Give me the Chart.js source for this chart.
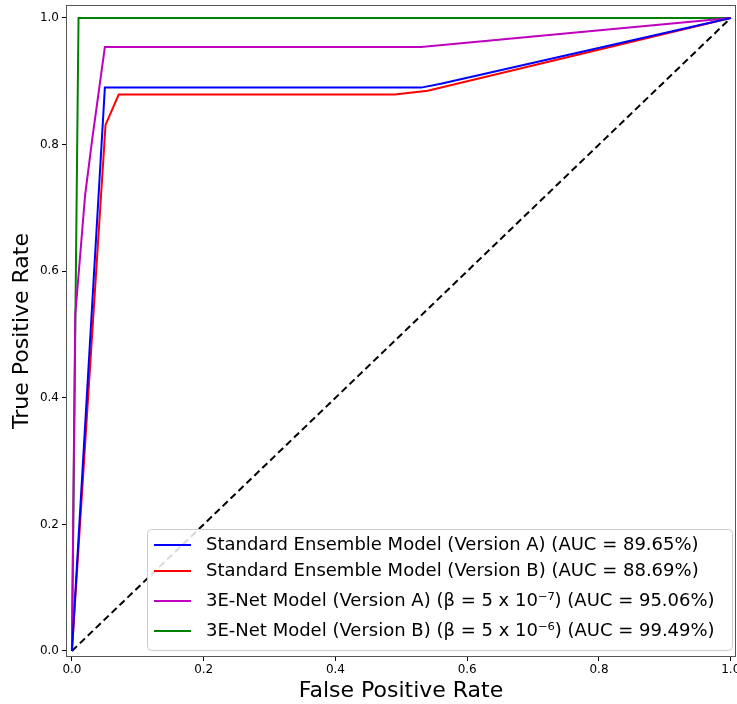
<!DOCTYPE html>
<html>
<head>
<meta charset="utf-8">
<script src="https://cdn.jsdelivr.net/npm/chart.js@4.4.1/dist/chart.umd.min.js"></script>
<style>
  html, body { margin: 0; padding: 0; background: #fff; overflow: hidden; }
  #wrap { width: 737px; height: 704px; }
</style>
</head>
<body>
<div id="wrap"><canvas id="roc"></canvas></div>
<script>
// ROC curve points
var labels = [
    "Standard Ensemble Model (Version A) (AUC = 89.65%)",
    "Standard Ensemble Model (Version B) (AUC = 88.69%)",
    "3E-Net Model (Version A) (β = 5 x 10⁻⁷) (AUC = 95.06%)",
    "3E-Net Model (Version B) (β = 5 x 10⁻⁶) (AUC = 99.49%)"
];
var colors = ["#0000ff", "#ff0000", "#bf00bf", "#008000"];

var fprA = [0, 0.05, 0.53, 0.56, 1];
var tprA = [0, 0.89, 0.89, 0.896, 1];

var fprB = [0, 0.051, 0.071, 0.49, 0.54, 1];
var tprB = [0, 0.831, 0.879, 0.879, 0.885, 1];

var fprC = [0, 0.005, 0.02, 0.031, 0.05, 0.53, 1];
var tprC = [0, 0.53, 0.72, 0.81, 0.954, 0.954, 1];

var fprD = [0, 0.01, 1];
var tprD = [0, 1, 1];

var diagX = [0, 1];
var diagY = [0, 1];

var xTicks = [0, 0.2, 0.4, 0.6, 0.8, 1.0];
var yTicks = [0, 0.2, 0.4, 0.6, 0.8, 1.0];

function toPoints(xs, ys) {
    var pts = [];
    for (var i = 0; i < xs.length; i++) pts.push({x: xs[i], y: ys[i]});
    return pts;
}

var series = [[fprA, tprA], [fprB, tprB], [fprC, tprC], [fprD, tprD]];
var datasets = [];
for (var i = 0; i < series.length; i++) {
    datasets.push({
        label: labels[i],
        data: toPoints(series[i][0], series[i][1]),
        borderColor: colors[i],
        borderWidth: 2,
        showLine: true,
        pointRadius: 0,
        tension: 0,
        fill: false
    });
}
//chance line
datasets.push({
    label: "",
    data: toPoints(diagX, diagY),
    borderColor: "#000",
    borderWidth: 2,
    borderDash: [7, 4],
    showLine: true,
    pointRadius: 0,
    fill: false
});

// spines on all four sides plus the boxed legend inside the plot
var framePlugin = {
    id: "frame",
    afterDraw: function(chart) {
        var ctx = chart.ctx;
        var a = chart.chartArea;
        ctx.save();
        ctx.strokeStyle = "#555";
        ctx.lineWidth = 1;
        ctx.strokeRect(a.left + 0.5, a.top + 0.5, a.right - a.left - 1, a.bottom - a.top - 1);

        var boxW = 585, boxH = 121;
        var bx = a.right - 4 - boxW, by = a.bottom - 7 - boxH;
        ctx.fillStyle = "rgba(255,255,255,0.85)";
        ctx.strokeStyle = "#cccccc";
        ctx.beginPath();
        ctx.roundRect(bx + 0.5, by + 0.5, boxW, boxH, 4);
        ctx.fill();
        ctx.stroke();

        var rows = [16, 42, 72, 102];
        ctx.font = "18px 'DejaVu Sans'";
        ctx.textBaseline = "middle";
        for (var i = 0; i < 4; i++) {
            var ry = by + rows[i];
            ctx.strokeStyle = colors[i];
            ctx.lineWidth = 2;
            ctx.beginPath();
            ctx.moveTo(bx + 7, ry);
            ctx.lineTo(bx + 44, ry);
            ctx.stroke();
            ctx.fillStyle = "#000";
            ctx.fillText(labels[i], bx + 59, ry);
        }
        ctx.restore();
    }
};

var chart = new Chart(document.getElementById("roc"), {
    type: "scatter",
    data: { datasets: datasets },
    options: {
        responsive: true,
        maintainAspectRatio: false,
        animation: false,
        layout: { padding: { left: 0, right: 1, top: 5, bottom: 0 } },
        plugins: {
            legend: { display: false },
            tooltip: { enabled: false }
        },
        scales: {
            x: {
                type: "linear",
                min: -0.009,
                max: 1.008,
                afterBuildTicks: function(axis) {
                    axis.ticks = xTicks.map(function(v) { return {value: v}; });
                },
                afterFit: function(axis) {
                    axis.height = 47;
                    axis.paddingLeft = 0;
                    axis.paddingRight = 0;
                },
                ticks: {
                    color: "#000",
                    font: { family: "DejaVu Sans", size: 12 },
                    padding: 2,
                    maxRotation: 0,
                    callback: function(v) { return v.toFixed(1); }
                },
                grid: { display: true, drawOnChartArea: false, drawTicks: true, tickLength: 4, color: "#000" },
                border: { display: false },
                title: {
                    display: true,
                    text: "False Positive Rate",
                    color: "#000",
                    font: { family: "DejaVu Sans", size: 22 },
                    padding: { top: 0, bottom: 0 }
                }
            },
            y: {
                type: "linear",
                min: -0.0095,
                max: 1.0205,
                afterBuildTicks: function(axis) {
                    axis.ticks = yTicks.map(function(v) { return {value: v}; });
                },
                afterFit: function(axis) {
                    axis.width = 66;
                    axis.paddingTop = 0;
                    axis.paddingBottom = 0;
                },
                ticks: {
                    color: "#000",
                    font: { family: "DejaVu Sans", size: 12 },
                    padding: 3,
                    callback: function(v) { return v.toFixed(1); }
                },
                grid: { display: true, drawOnChartArea: false, drawTicks: true, tickLength: 4, color: "#000" },
                border: { display: false },
                title: {
                    display: true,
                    text: "True Positive Rate",
                    color: "#000",
                    font: { family: "DejaVu Sans", size: 22 },
                    padding: { top: 9, bottom: 0 }
                }
            }
        }
    },
    plugins: [framePlugin]
});
</script>
</body>
</html>
